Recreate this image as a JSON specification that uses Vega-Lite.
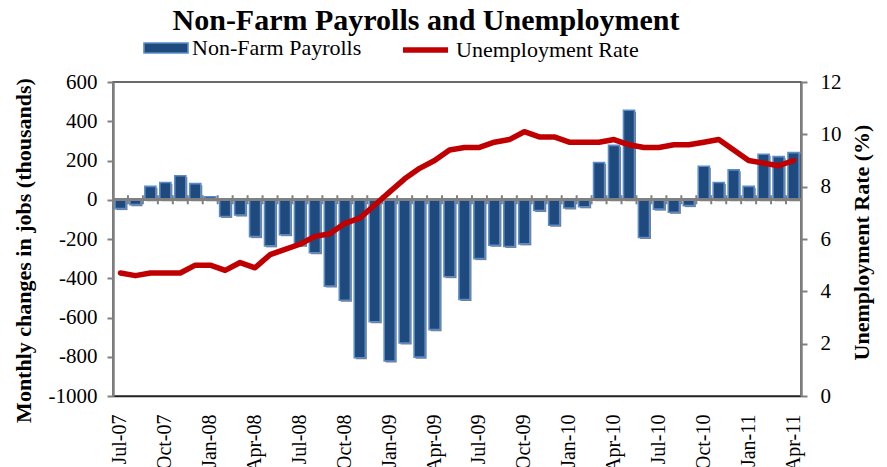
{
  "$schema": "https://vega.github.io/schema/vega-lite/v6.json",
  "width": 688,
  "height": 314,
  "autosize": {"type": "none"},
  "padding": {"left": 113, "top": 82, "right": 86, "bottom": 71},
  "background": "white",
  "title": {
    "text": "Non-Farm Payrolls and Unemployment",
    "font": "Liberation Serif",
    "fontSize": 30,
    "fontWeight": "bold",
    "color": "black",
    "anchor": "middle",
    "frame": "group",
    "dx": -31,
    "offset": -11
  },
  "config": {
    "view": {"stroke": "#3a3a3a", "strokeWidth": 1.5},
    "font": "Liberation Serif",
    "axis": {"labelFont": "Liberation Serif", "titleFont": "Liberation Serif", "labelColor": "black", "titleColor": "black", "grid": false, "labelOverlap": false},
    "legend": {"labelFont": "Liberation Serif", "labelFontSize": 22, "labelColor": "black", "labelLimit": 400, "padding": 0, "title": null}
  },
  "data": {
    "values": [
      {"month": "Jul-07", "payrolls": -45, "rate": 4.7},
      {"month": "Aug-07", "payrolls": -25, "rate": 4.6},
      {"month": "Sep-07", "payrolls": 68, "rate": 4.7},
      {"month": "Oct-07", "payrolls": 88, "rate": 4.7},
      {"month": "Nov-07", "payrolls": 122, "rate": 4.7},
      {"month": "Dec-07", "payrolls": 82, "rate": 5.0},
      {"month": "Jan-08", "payrolls": 15, "rate": 5.0},
      {"month": "Feb-08", "payrolls": -85, "rate": 4.8},
      {"month": "Mar-08", "payrolls": -78, "rate": 5.1},
      {"month": "Apr-08", "payrolls": -188, "rate": 4.9},
      {"month": "May-08", "payrolls": -235, "rate": 5.4},
      {"month": "Jun-08", "payrolls": -178, "rate": 5.6},
      {"month": "Jul-08", "payrolls": -232, "rate": 5.8},
      {"month": "Aug-08", "payrolls": -270, "rate": 6.1},
      {"month": "Sep-08", "payrolls": -440, "rate": 6.2},
      {"month": "Oct-08", "payrolls": -512, "rate": 6.6},
      {"month": "Nov-08", "payrolls": -805, "rate": 6.8},
      {"month": "Dec-08", "payrolls": -622, "rate": 7.3},
      {"month": "Jan-09", "payrolls": -822, "rate": 7.8},
      {"month": "Feb-09", "payrolls": -730, "rate": 8.3},
      {"month": "Mar-09", "payrolls": -802, "rate": 8.7},
      {"month": "Apr-09", "payrolls": -662, "rate": 9.0},
      {"month": "May-09", "payrolls": -392, "rate": 9.4},
      {"month": "Jun-09", "payrolls": -508, "rate": 9.5},
      {"month": "Jul-09", "payrolls": -300, "rate": 9.5},
      {"month": "Aug-09", "payrolls": -232, "rate": 9.7},
      {"month": "Sep-09", "payrolls": -238, "rate": 9.8},
      {"month": "Oct-09", "payrolls": -225, "rate": 10.1},
      {"month": "Nov-09", "payrolls": -55, "rate": 9.9},
      {"month": "Dec-09", "payrolls": -130, "rate": 9.9},
      {"month": "Jan-10", "payrolls": -42, "rate": 9.7},
      {"month": "Feb-10", "payrolls": -36, "rate": 9.7},
      {"month": "Mar-10", "payrolls": 190, "rate": 9.7},
      {"month": "Apr-10", "payrolls": 277, "rate": 9.8},
      {"month": "May-10", "payrolls": 456, "rate": 9.6},
      {"month": "Jun-10", "payrolls": -192, "rate": 9.5},
      {"month": "Jul-10", "payrolls": -48, "rate": 9.5},
      {"month": "Aug-10", "payrolls": -64, "rate": 9.6},
      {"month": "Sep-10", "payrolls": -30, "rate": 9.6},
      {"month": "Oct-10", "payrolls": 171, "rate": 9.7},
      {"month": "Nov-10", "payrolls": 88, "rate": 9.8},
      {"month": "Dec-10", "payrolls": 152, "rate": 9.4},
      {"month": "Jan-11", "payrolls": 68, "rate": 9.0},
      {"month": "Feb-11", "payrolls": 232, "rate": 8.9},
      {"month": "Mar-11", "payrolls": 220, "rate": 8.8},
      {"month": "Apr-11", "payrolls": 240, "rate": 9.0}
    ]
  },
  "layer": [
    {
      "encoding": {
        "x": {"field": "month", "type": "ordinal", "sort": null, "scale": {"paddingInner": 0.26, "paddingOuter": 0.13},
          "axis": {"orient": "bottom", "title": null, "values": ["Jul-07","Oct-07","Jan-08","Apr-08","Jul-08","Oct-08","Jan-09","Apr-09","Jul-09","Oct-09","Jan-10","Apr-10","Jul-10","Oct-10","Jan-11","Apr-11"],
            "labelFont": "Liberation Serif", "labelAngle": -90, "labelFontSize": 20, "labelPadding": 18, "ticks": false, "domain": true, "domainColor": "#202020", "domainWidth": 1.5, "labelAlign": "right", "labelBaseline": "middle"}},
        "y": {"field": "payrolls", "type": "quantitative",
          "scale": {"domain": [-1000, 600], "nice": false, "zero": false},
          "axis": {"orient": "left", "title": "Monthly changes in jobs (thousands)", "titleFont": "Liberation Serif", "titleFontSize": 22, "titleFontWeight": "bold", "titleAngle": -90, "titleBaseline": "middle", "titleAlign": "center", "titleX": -90, "titleY": 168,
            "values": [-1000, -800, -600, -400, -200, 0, 200, 400, 600], "labelExpr": "'' + datum.value", "labelFont": "Liberation Serif", "labelFontSize": 21, "labelPadding": 10, "tickSize": 6, "tickWidth": 2, "tickColor": "#808080", "domainColor": "#808080", "domainWidth": 2.5}}
      },
      "layer": [
        {
          "mark": {"type": "bar", "fill": "#111111", "opacity": 0.55},
          "encoding": {
            "xOffset": {"value": 1.5},
            "yOffset": {"value": 1.5}
          }
        },
        {
          "mark": {"type": "bar", "stroke": "#5B8CC9", "strokeWidth": 1.6},
          "encoding": {
            "fill": {"datum": "Non-Farm Payrolls", "type": "nominal",
              "scale": {"domain": ["Non-Farm Payrolls"], "range": ["#1F4A7E"]},
              "legend": {
                "orient": "none", "direction": "horizontal", "legendX": 41, "legendY": -46,
                "labelFont": "Liberation Serif", "labelOffset": 14,
                "symbolType": "M-2,-0.45H2V0.45H-2Z", "symbolSize": 484,
                "symbolStrokeColor": "#5B8CC9", "symbolStrokeWidth": 1.6, "symbolOpacity": 1
              }
            }
          }
        },
        {
          "mark": {"type": "rule", "color": "#808080", "strokeWidth": 2.5},
          "encoding": {"y": {"datum": 0}, "x": null}
        },
        {
          "mark": {"type": "rule", "color": "#808080", "strokeWidth": 2},
          "encoding": {
            "x": {"field": "month", "type": "ordinal", "sort": null, "bandPosition": -0.176},
            "y": {"datum": -23},
            "y2": {"datum": 23}
          }
        }
      ]
    },
    {
      "mark": {"type": "line", "strokeWidth": 5.5, "strokeCap": "round", "strokeJoin": "round"},
      "encoding": {
        "x": {"field": "month", "type": "ordinal", "sort": null},
        "y": {"field": "rate", "type": "quantitative",
          "scale": {"domain": [0, 12], "nice": false},
          "axis": {"orient": "right", "title": "Unemployment Rate (%)", "titleFont": "Liberation Serif", "titleFontSize": 22, "titleFontWeight": "bold", "titleAngle": -90, "titleBaseline": "middle", "titleAlign": "center", "titleX": 60, "titleY": 160,
            "values": [0, 2, 4, 6, 8, 10, 12], "labelFont": "Liberation Serif", "labelFontSize": 21, "labelPadding": 13, "tickSize": 6, "tickWidth": 2, "tickColor": "#808080", "domainColor": "#808080", "domainWidth": 2.5}},
        "stroke": {"datum": "Unemployment Rate", "type": "nominal",
          "scale": {"domain": ["Unemployment Rate"], "range": ["#C00000"]},
          "legend": {
            "orient": "none", "direction": "horizontal", "legendX": 287, "legendY": -57.5,
            "labelFont": "Liberation Serif", "labelOffset": 5,
            "symbolType": "stroke", "symbolSize": 2025, "symbolStrokeWidth": 5.5, "symbolOpacity": 1
          }
        }
      }
    }
  ],
  "resolve": {"scale": {"y": "independent"}}
}
